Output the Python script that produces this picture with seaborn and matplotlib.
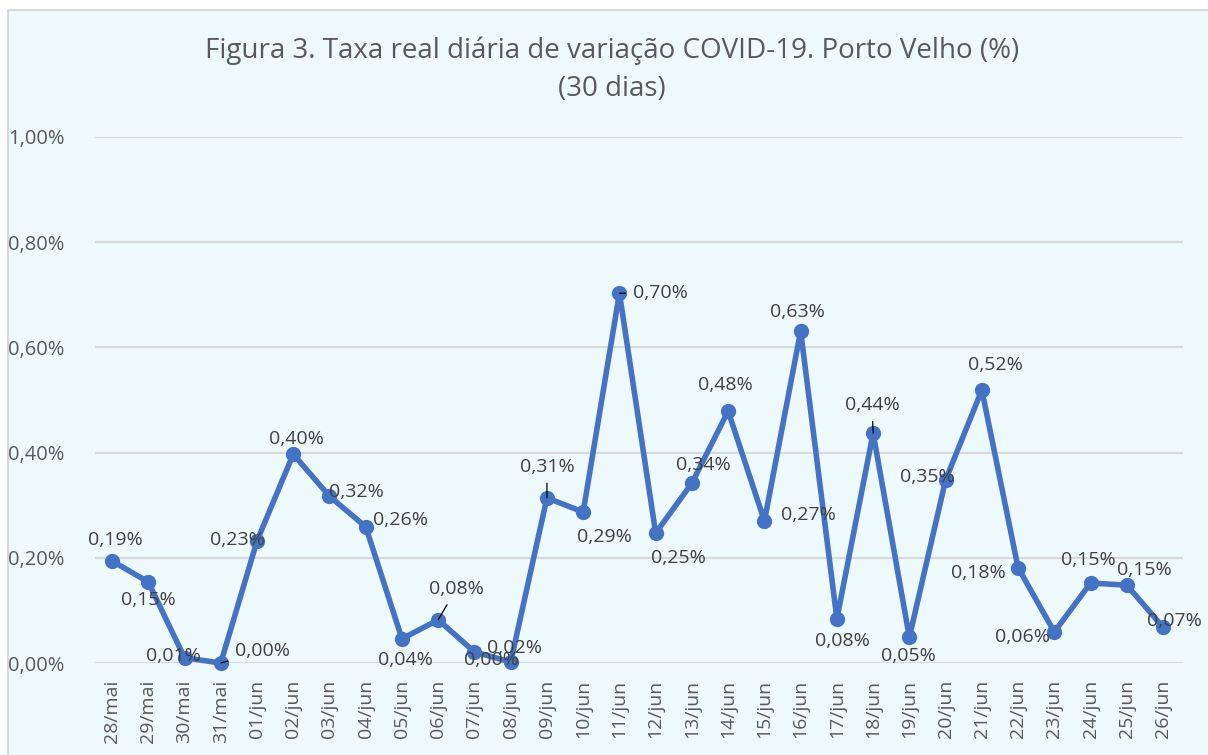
import matplotlib
matplotlib.use("Agg")
import matplotlib.pyplot as plt
import seaborn as sns
from matplotlib.patches import Rectangle
from matplotlib.ticker import FuncFormatter

# dados (taxa diária, em %)
datas = ["28/mai", "29/mai", "30/mai", "31/mai", "01/jun", "02/jun", "03/jun", "04/jun",
         "05/jun", "06/jun", "07/jun", "08/jun", "09/jun", "10/jun", "11/jun", "12/jun",
         "13/jun", "14/jun", "15/jun", "16/jun", "17/jun", "18/jun", "19/jun", "20/jun",
         "21/jun", "22/jun", "23/jun", "24/jun", "25/jun", "26/jun"]
taxa = [0.194, 0.154, 0.010, 0.000, 0.232, 0.397, 0.317, 0.259,
        0.046, 0.082, 0.021, 0.002, 0.314, 0.287, 0.703, 0.247,
        0.342, 0.479, 0.270, 0.631, 0.084, 0.437, 0.049, 0.348,
        0.519, 0.181, 0.059, 0.152, 0.148, 0.068]
rotulos = ["0,19%", "0,15%", "0,01%", "0,00%", "0,23%", "0,40%", "0,32%", "0,26%",
           "0,04%", "0,08%", "0,02%", "0,00%", "0,31%", "0,29%", "0,70%", "0,25%",
           "0,34%", "0,48%", "0,27%", "0,63%", "0,08%", "0,44%", "0,05%", "0,35%",
           "0,52%", "0,18%", "0,06%", "0,15%", "0,15%", "0,07%"]
y_ticks = [0.0, 0.2, 0.4, 0.6, 0.8, 1.0]

# deslocamento dos rótulos em pixels (dx, dy para baixo) e linha de chamada
desloc = [(3, -21), (0, 18), (-11, -2), (42, -12), (-20, -1), (3, -15), (27, -4), (35, -7),
          (3, 21), (18, -31), (40, -4), (-19, -2), (0, -31), (21, 25), (41, 0), (23, 25),
          (11, -18), (-3, -26), (44, -6), (-3, -19), (6, 22), (-1, -28), (-1, 19), (-18, -3),
          (14, -25), (-40, 5), (-32, 5), (-2, -23), (18, -15), (11, -6)]
chamada = {3, 9, 12, 14, 21}

sns.set_style("white")
plt.rcParams["font.family"] = ["Open Sans", "DejaVu Sans"]

fig = plt.figure(figsize=(12.08, 7.55), dpi=100)
fig.patch.set_facecolor("white")
fig.patches.append(Rectangle((8 / 1208, -0.05), 1.2, 1 - 10 / 755 + 0.05, transform=fig.transFigure,
                             facecolor="#EEF9FB", edgecolor="#D9D9D9", lw=1.5, zorder=-5))

ax = fig.add_axes([95 / 1208, 1 - 663 / 755, (1183 - 95) / 1208, (663 - 137) / 755])
ax.set_facecolor("none")

x = list(range(len(datas)))
sns.lineplot(x=x, y=taxa, ax=ax, color="#4472C4", linewidth=4.0, marker="o",
             markersize=11, markeredgewidth=0, zorder=3, clip_on=False)

ax.set_xlim(-0.47, len(datas) - 1 + 0.55)
ax.set_ylim(0, 1.0)
ax.set_yticks(y_ticks)
ax.yaxis.set_major_formatter(FuncFormatter(lambda v, p: f"{v:.2f}%".replace(".", ",")))
ax.set_xticks(x)
ax.set_xticklabels(datas, rotation=90)
ax.tick_params(axis="y", length=0, pad=22, labelsize=14.5, labelcolor="#595959")
ax.tick_params(axis="x", length=0, pad=12, labelsize=14, labelcolor="#595959")
ax.grid(axis="y", color="#D9D9D9", lw=1.5)
for s in ax.spines.values():
    s.set_visible(False)

for i, (v, txt) in enumerate(zip(taxa, rotulos)):
    dx, dy = desloc[i]
    kw = {}
    if i in chamada:
        kw["arrowprops"] = dict(arrowstyle="-", color="black", lw=0.9, shrinkA=3, shrinkB=0)
    ax.annotate(txt, (i, v), xytext=(dx, -dy), textcoords="offset pixels",
                ha="center", va="center", fontsize=14, color="#404040", zorder=4,
                annotation_clip=False, **kw)

fig.text(612 / 1208, 1 - 70 / 755, "Figura 3. Taxa real diária de variação COVID-19. Porto Velho (%)\n(30 dias)",
         ha="center", va="center", fontsize=20, color="#595959", linespacing=1.5)

fig.savefig("out.png", dpi=100)
